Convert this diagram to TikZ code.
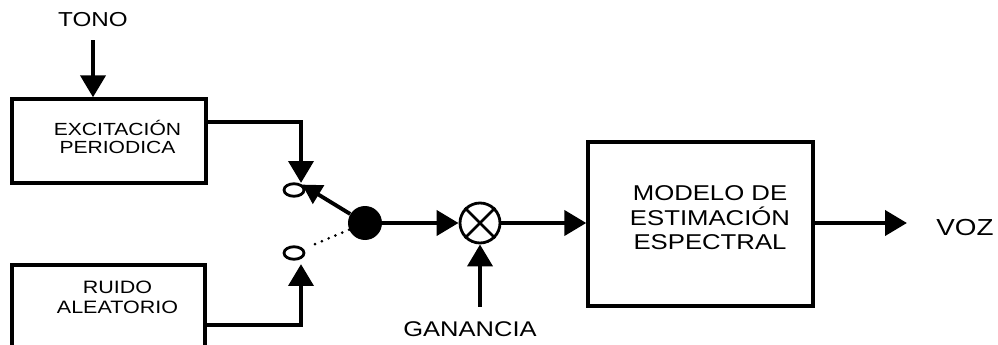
\documentclass[tikz,border=0pt]{standalone}
\usepackage{fontspec}
\setmainfont{Liberation Sans}[FakeStretch=1.2]
\usetikzlibrary{arrows.meta,shapes.geometric}

\begin{document}
\begin{tikzpicture}[x=0.02cm,y=-0.02cm,
  block/.style={draw,line width=1.9pt,inner sep=0pt},
  flow/.style={line width=2.8pt,-{Triangle[length=12.5pt,width=14pt]}},
  thinflow/.style={line width=2.2pt,-{Triangle[length=11pt,width=12pt]}},
  lab/.style={inner sep=0pt,align=center},
  contact/.style={draw,ellipse,line width=1.6pt,minimum width=0.4cm,minimum height=0.25cm,inner sep=0pt}]
\useasboundingbox (0,0) rectangle (998,345);
\clip (0,0) rectangle (998,345);

% source blocks
\node[block,minimum width=3.88cm,minimum height=1.68cm] (exc) at (109,141) {};
\node[lab,font=\fontsize{10}{10.4}\selectfont] (exctxt) at (117.5,136.7) {EXCITACIÓN\\PERIODICA};
\node[block,minimum width=3.86cm,minimum height=1.9cm] (ruido) at (108.5,312.5) {};
\node[lab,font=\fontsize{10.2}{11.3}\selectfont] (ruidotxt) at (117.5,297.5) {RUIDO\\ALEATORIO};

% pitch input
\node[lab,font=\fontsize{11.5}{13}\selectfont,anchor=base] (tono) at (93,26.5) {TONO};
\draw[flow,shorten <=0.26cm] (tono.south) -- (tono.south |- exc.north);

% switch
\node[contact] (sw1) at (294,190) {};
\node[contact] (sw2) at (294,253) {};
\node[circle,fill=black,minimum size=0.68cm,inner sep=0pt] (dot) at (365,223) {};
\coordinate (k1) at (301,183);
\coordinate (k2) at (301,264);
\draw[flow] ([yshift=0.38cm]exc.east) -| (k1);
\draw[flow] ([yshift=-0.25cm]ruido.east) -| (k2);
\draw[thinflow] (dot) -- (sw1.north east);
\draw[line width=1.7pt,line cap=round,dash pattern=on 0pt off 4.2pt,shorten >=0.2cm] (dot) -- (sw2);

% gain
\node[circle,draw,line width=1.6pt,minimum size=0.8cm,inner sep=0pt] (mult) at (480,223) {};
\draw[line width=1.6pt] (mult.north east) -- (mult.south west)
                        (mult.north west) -- (mult.south east);
\draw[flow] (dot) -- (mult);
\node[lab,font=\fontsize{12.1}{14}\selectfont,anchor=base] (gain) at (470,336) {GANANCIA};
\draw[flow,shorten <=0.28cm] (mult.south |- gain.north) -- (mult.south);

% spectral model
\node[block,minimum width=4.5cm,minimum height=3.28cm] (model) at (700.5,224) {};
\node[lab,font=\fontsize{12.2}{13.9}\selectfont] (modeltxt) at (710,218) {MODELO DE\\ESTIMACIÓN\\ESPECTRAL};
\draw[flow] (mult.east) -- (mult.east -| model.west);

% output
\node[lab,font=\fontsize{13.2}{15}\selectfont,anchor=base] (voz) at (965,235) {VOZ};
\draw[flow,shorten >=0.58cm] (model.east |- mult.east) -- (mult.east -| voz.west);
\end{tikzpicture}
\end{document}
